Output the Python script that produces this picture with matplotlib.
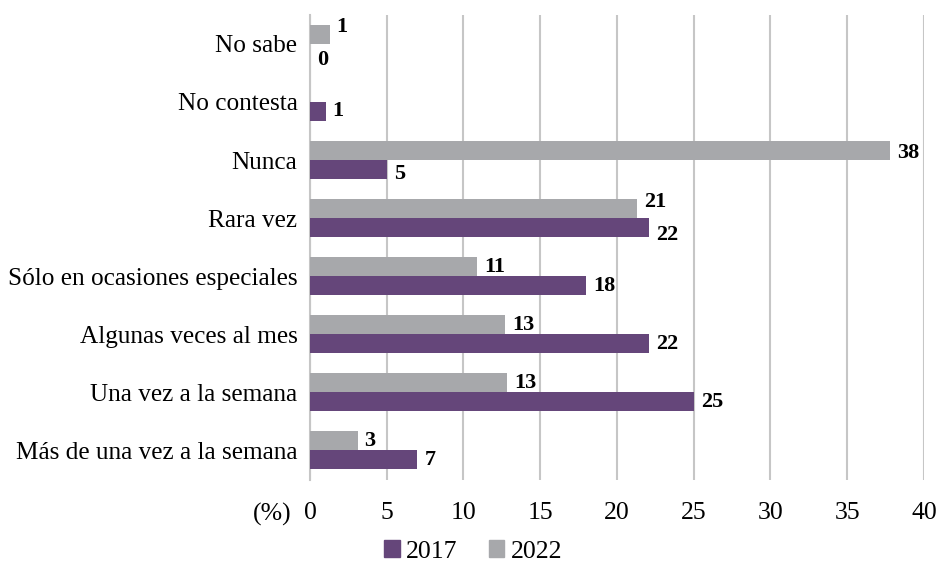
import matplotlib

matplotlib.use("Agg")
import matplotlib.pyplot as plt
import numpy as np
from matplotlib.patches import Patch

plt.rcParams["font.family"] = ["Liberation Serif", "DejaVu Serif"]

categories = [
    "Más de una vez a la semana",
    "Una vez a la semana",
    "Algunas veces al mes",
    "Sólo en ocasiones especiales",
    "Rara vez",
    "Nunca",
    "No contesta",
    "No sabe",
]
values_2017 = [7.0, 25.0, 22.1, 18.0, 22.1, 5.05, 1.02, 0.0]
values_2022 = [3.1, 12.85, 12.7, 10.9, 21.3, 37.8, np.nan, 1.28]
series_labels = ["2017", "2022"]
x_ticks = [0, 5, 10, 15, 20, 25, 30, 35, 40]

color_2017 = "#65467a"
color_2022 = "#a7a8ab"
grid_color = "#c6c6c6"

fig = plt.figure(figsize=(9.37, 5.64), dpi=100)
ax = fig.add_axes([0.3308, 0.1498, 0.6553, 0.824])

y = np.arange(len(categories))
h = 0.327
v17 = np.array(values_2017, dtype=float)
v22 = np.array(values_2022, dtype=float)

ax.barh(y - h / 2, v17, height=h, color=color_2017, zorder=3)
ax.barh(y + h / 2, np.nan_to_num(v22), height=h, color=color_2022, zorder=3)

# value labels: nudge the pair apart when the two bar ends sit close together
for i in range(len(categories)):
    a, b = v17[i], v22[i]
    close = not np.isnan(b) and abs(a - b) < 2
    dy17 = -5 if close else (-3 if not np.isnan(b) and b > a else 0)
    dy22 = 5 if close else (-2 if a < b else 0)
    ax.annotate(f"{a:.0f}", (a, y[i] - h / 2), xytext=(5, dy17),
                textcoords="offset points", ha="left", va="center",
                fontsize=16, fontweight="bold", zorder=4)
    if not np.isnan(b):
        ax.annotate(f"{b:.0f}", (b, y[i] + h / 2), xytext=(5, dy22),
                    textcoords="offset points", ha="left", va="center",
                    fontsize=16, fontweight="bold", zorder=4)

ax.set_xlim(0, 40)
ax.set_ylim(-0.5, len(categories) - 0.5)
ax.set_xticks(x_ticks)
ax.set_yticks(y)
ax.set_yticklabels(categories)
ax.tick_params(axis="x", length=0, pad=16, labelsize=18.5)
ax.tick_params(axis="y", length=0, pad=9, labelsize=18.2)
ax.xaxis.grid(True, color=grid_color, linewidth=1.5, zorder=0)
for side in ["top", "right", "bottom"]:
    ax.spines[side].set_visible(False)
ax.spines["left"].set_color(grid_color)
ax.spines["left"].set_linewidth(1.5)

ax.text(-0.03, -0.075, "(%)", transform=ax.transAxes, ha="right", va="center",
        fontsize=18.5)

handles = [Patch(color=color_2017), Patch(color=color_2022)]
fig.legend(handles, series_labels, loc="center", bbox_to_anchor=(0.505, 0.022),
           ncol=2, frameon=False, fontsize=18.5, handlelength=0.6,
           handleheight=0.6, handletextpad=0.25, columnspacing=1.2)

fig.savefig("out.png", dpi=100)
plt.close(fig)
